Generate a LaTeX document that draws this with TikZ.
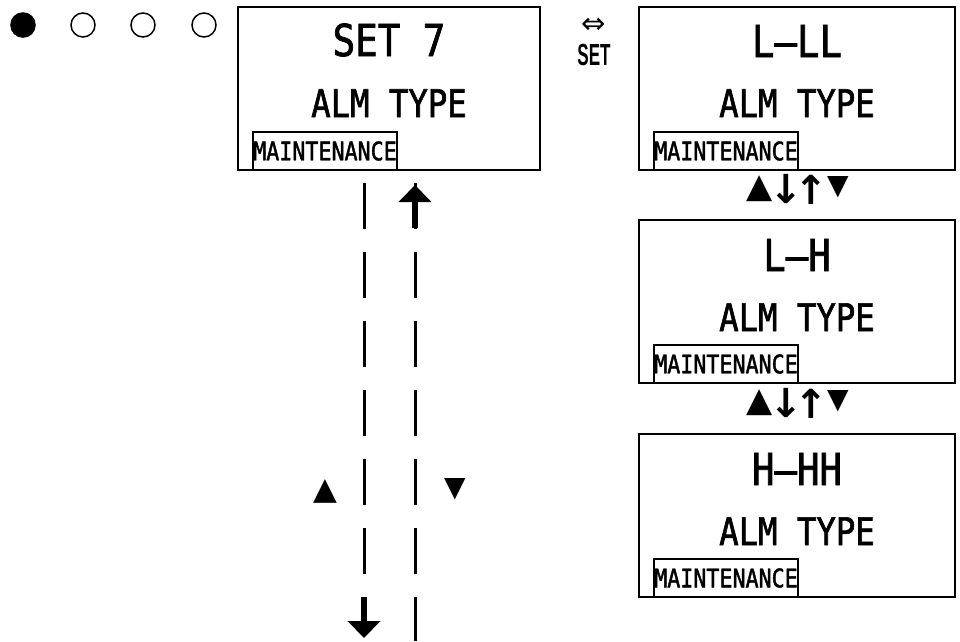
\documentclass[tikz,border=0pt]{standalone}
\usepackage{fontspec}
\usetikzlibrary{arrows.meta}
\setmainfont{Liberation Sans}
\newfontfamily\lcdfont[FakeStretch=0.85,FakeBold=1.6]{DejaVu Sans Mono}
\newfontfamily\symfont{DejaVu Sans}
\newfontfamily\symbfont{DejaVu Sans Bold}
\begin{document}
\begin{tikzpicture}[x=1pt,y=-1pt,
  screen/.style={draw, line width=2pt, inner sep=0pt, minimum height=163pt},
  bigtxt/.style={anchor=base, inner sep=0pt, font=\lcdfont\fontsize{44}{48}\selectfont},
  midtxt/.style={anchor=base, inner sep=0pt, font=\lcdfont\fontsize{38}{42}\selectfont},
  maint/.style={draw, line width=2pt, anchor=south west, inner sep=0pt,
     minimum width=144pt, minimum height=38pt, font=\lcdfont\fontsize{25.5}{28}\selectfont},
  glyph/.style={inner sep=0pt, font=\symfont\fontsize{34}{36}\selectfont},
  arrglyph/.style={inner sep=0pt, font=\symbfont\fontsize{40}{42}\selectfont},
  dline/.style={line width=3pt, dash pattern=on 46pt off 23pt},
  bigarrow/.style={line width=6pt, -{Triangle[width=32pt,length=17pt]}},
  dot/.style={circle, inner sep=0pt, minimum size=25.6pt},
]
\useasboundingbox (0,0) rectangle (960,641);

% status dots
\node[dot, fill] (c1) at (23,25) {};
\node[dot, draw, line width=1.5pt, minimum size=24pt] (c2) at (83,25) {};
\node[dot, draw, line width=1.5pt, minimum size=24pt] (c3) at (143,25) {};
\node[dot, draw, line width=1.5pt, minimum size=24pt] (c4) at (204,25) {};

% left screen
\node[screen, minimum width=302pt] (b1) at (389,88.5) {};
\node[bigtxt] (t1) at (389,56) {SET 7};
\node[midtxt] (a1) at (389,117) {ALM TYPE};
\node[maint] (m1) at ([xshift=15pt]b1.south west) {MAINTENANCE};

% SET key
\node[inner sep=0pt, font=\symfont\fontsize{29}{30}\selectfont] (kx) at (594,26) {⇔};
\node[anchor=base, inner sep=0pt] (ks) at (594,65) {\scalebox{0.56}[1]{\bfseries\fontsize{30.5}{32}\selectfont SET}};

% right screens
\node[screen, minimum width=316pt] (b2) at (797,88.5) {};
\node[bigtxt] (t2) at (797,57) {L–LL};
\node[midtxt] (a2) at (797,117) {ALM TYPE};
\node[maint] (m2) at ([xshift=15pt]b2.south west) {MAINTENANCE};

\node[screen, minimum width=316pt] (b3) at (797,301.5) {};
\node[bigtxt] (t3) at (797,271) {L–H};
\node[midtxt] (a3) at (797,331) {ALM TYPE};
\node[maint] (m3) at ([xshift=15pt]b3.south west) {MAINTENANCE};

\node[screen, minimum width=316pt] (b4) at (797,515.5) {};
\node[bigtxt] (t4) at (797,485) {H–HH};
\node[midtxt] (a4) at (797,545) {ALM TYPE};
\node[maint] (m4) at ([xshift=15pt]b4.south west) {MAINTENANCE};

% key rows between right screens
\foreach \yy/\nm in {189/r1, 403/r2} {
  \node[glyph] (\nm a) at (760,\yy) {▲};
  \node[arrglyph] (\nm b) at (786,\yy) {↓};
  \node[arrglyph] (\nm c) at (811,\yy+1) {↑};
  \node[glyph, font=\symfont\fontsize{28}{30}\selectfont] (\nm d) at (838,\yy-2) {▼};
}

% dashed up/down lines
\coordinate (ltop) at (364,183);
\coordinate (lend) at (364,620);
\coordinate (ltail) at (364,597);
\coordinate (ltip) at (364,638);
\coordinate (rtop) at (415,183);
\coordinate (rend) at (415,641);
\coordinate (rtail) at (415,228);
\coordinate (rtip) at (415,185);
\draw[dline] (ltop) -- (lend);
\draw[dline] (rtop) -- (rend);
\draw[bigarrow] (ltail) -- (ltip);
\draw[bigarrow] (rtail) -- (rtip);
\node[glyph, font=\symfont\fontsize{31}{32}\selectfont] (up) at (325,491) {▲};
\node[glyph, font=\symfont\fontsize{28}{30}\selectfont] (dn) at (455,489) {▼};
\end{tikzpicture}
\end{document}
